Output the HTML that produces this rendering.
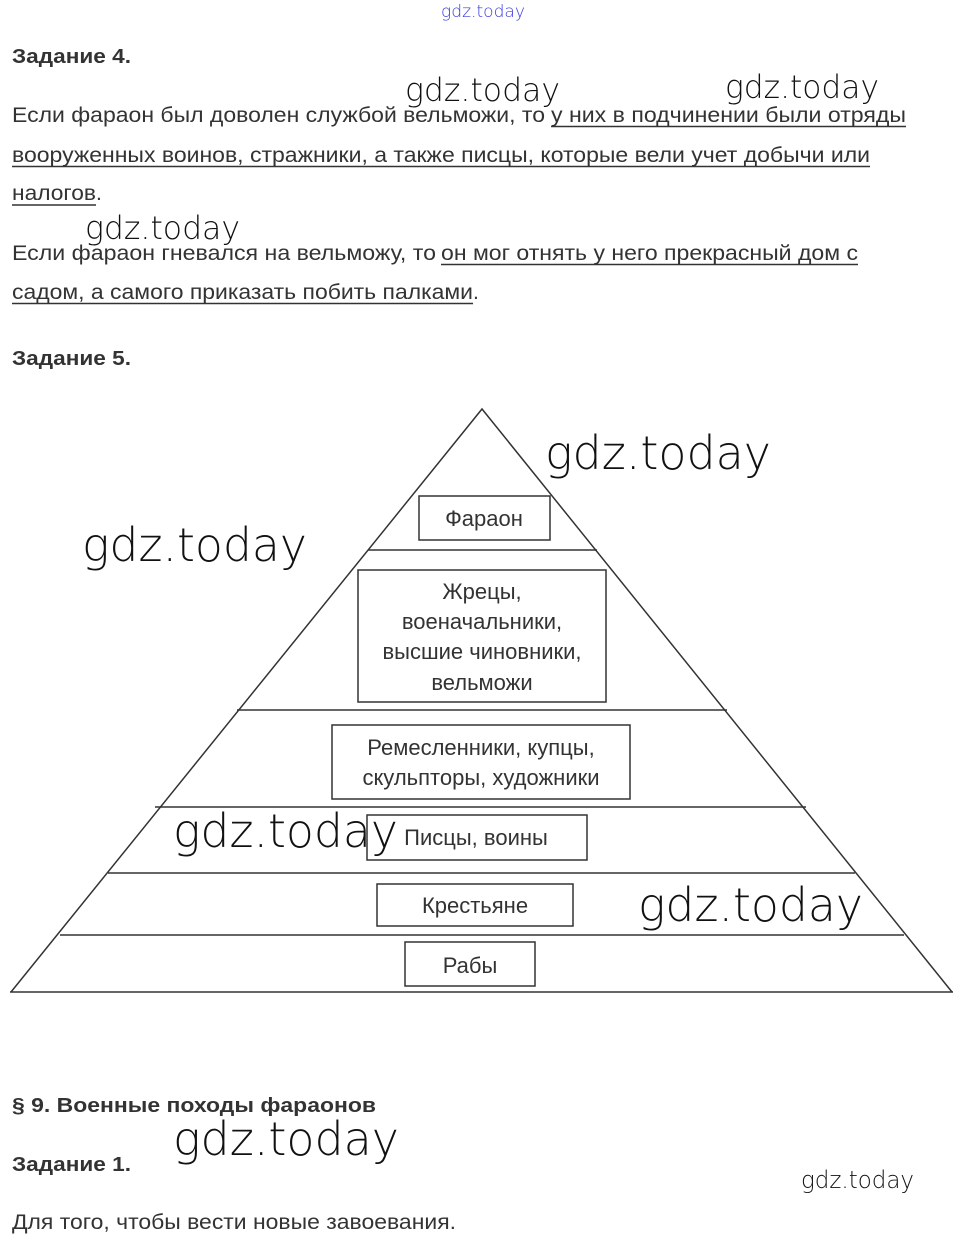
<!DOCTYPE html>
<html><head><meta charset="utf-8"><style>
html,body{margin:0;padding:0;background:#fff;}
svg{display:block;}
.t{font-family:"Liberation Sans",Arial,sans-serif;font-size:21px;fill:#333;}
.p{font-family:"Liberation Sans",Arial,sans-serif;font-size:22px;fill:#333;}
.b{font-family:"Liberation Sans",Arial,sans-serif;font-size:20px;font-weight:bold;fill:#333;}
.w{font-family:"DejaVu Sans","Liberation Sans",sans-serif;font-weight:200;fill:#111;}
</style></head><body>
<svg width="965" height="1249" viewBox="0 0 965 1249" xmlns="http://www.w3.org/2000/svg">
<rect width="965" height="1249" fill="#fff"/>
<text class="b" x="12" y="63" textLength="119" lengthAdjust="spacingAndGlyphs">Задание 4.</text>
<text class="t" x="12" y="122" textLength="533" lengthAdjust="spacingAndGlyphs">Если фараон был доволен службой вельможи, то</text>
<text class="t" x="551" y="122" textLength="355" lengthAdjust="spacingAndGlyphs">у них в подчинении были отряды</text>
<line x1="551" y1="126.5" x2="906" y2="126.5" stroke="#333" stroke-width="1.5"/>
<text class="t" x="12" y="162" textLength="858" lengthAdjust="spacingAndGlyphs">вооруженных воинов, стражники, а также писцы, которые вели учет добычи или</text>
<line x1="12" y1="166.5" x2="870" y2="166.5" stroke="#333" stroke-width="1.5"/>
<text class="t" x="12" y="200" textLength="84" lengthAdjust="spacingAndGlyphs">налогов</text><text class="t" x="96" y="200">.</text>
<line x1="12" y1="205" x2="96" y2="205" stroke="#333" stroke-width="1.5"/>
<text class="t" x="12" y="260" textLength="424" lengthAdjust="spacingAndGlyphs">Если фараон гневался на вельможу, то</text>
<text class="t" x="441" y="260" textLength="417" lengthAdjust="spacingAndGlyphs">он мог отнять у него прекрасный дом с</text>
<line x1="441" y1="264.5" x2="858" y2="264.5" stroke="#333" stroke-width="1.5"/>
<text class="t" x="12" y="299" textLength="461" lengthAdjust="spacingAndGlyphs">садом, а самого приказать побить палками</text><text class="t" x="473" y="299">.</text>
<line x1="12" y1="303.5" x2="473" y2="303.5" stroke="#333" stroke-width="1.5"/>
<text class="b" x="12" y="365" textLength="119" lengthAdjust="spacingAndGlyphs">Задание 5.</text>

<g stroke="#333" stroke-width="1.5" fill="none">
<polyline points="11,992 482,409 952,992"/>
<line x1="10" y1="992" x2="953" y2="992"/>
<line x1="368" y1="550" x2="597" y2="550"/>
<line x1="237" y1="710" x2="727" y2="710"/>
<line x1="155" y1="807" x2="806" y2="807"/>
<line x1="108" y1="873" x2="855" y2="873"/>
<line x1="60" y1="935" x2="904" y2="935"/>
<rect x="419" y="496" width="131" height="44"/>
<rect x="358" y="570" width="248" height="132"/>
<rect x="332" y="725" width="298" height="74"/>
<rect x="367" y="815" width="220" height="45"/>
<rect x="377" y="884" width="196" height="42"/>
<rect x="405" y="942" width="130" height="44"/>
</g>
<g class="p" text-anchor="middle">
<text x="484" y="526">Фараон</text>
<text x="482" y="599">Жрецы,</text>
<text x="482" y="629">военачальники,</text>
<text x="482" y="659">высшие чиновники,</text>
<text x="482" y="690">вельможи</text>
<text x="481" y="755">Ремесленники, купцы,</text>
<text x="481" y="785">скульпторы, художники</text>
<text x="476" y="845">Писцы, воины</text>
<text x="475" y="913">Крестьяне</text>
<text x="470" y="973">Рабы</text>
</g>

<text class="b" x="12" y="1112" textLength="364" lengthAdjust="spacingAndGlyphs">§ 9. Военные походы фараонов</text>
<text class="b" x="12" y="1171" textLength="119" lengthAdjust="spacingAndGlyphs">Задание 1.</text>
<text class="t" x="12" y="1229" textLength="444" lengthAdjust="spacingAndGlyphs">Для того, чтобы вести новые завоевания.</text>

<text class="w" x="441" y="17" font-size="17" style="fill:#3a3ae0" textLength="84" lengthAdjust="spacingAndGlyphs">gdz.today</text>
<text class="w" x="405" y="101" font-size="32" textLength="155" lengthAdjust="spacingAndGlyphs">gdz.today</text>
<text class="w" x="725" y="98" font-size="32" textLength="154" lengthAdjust="spacingAndGlyphs">gdz.today</text>
<text class="w" x="85" y="239" font-size="32" textLength="155" lengthAdjust="spacingAndGlyphs">gdz.today</text>
<text class="w" x="545" y="469" font-size="46" textLength="226" lengthAdjust="spacingAndGlyphs">gdz.today</text>
<text class="w" x="82" y="561" font-size="46" textLength="225" lengthAdjust="spacingAndGlyphs">gdz.today</text>
<text class="w" x="173" y="847" font-size="46" textLength="225" lengthAdjust="spacingAndGlyphs">gdz.today</text>
<text class="w" x="638" y="921" font-size="46" textLength="225" lengthAdjust="spacingAndGlyphs">gdz.today</text>
<text class="w" x="173" y="1155" font-size="46" textLength="226" lengthAdjust="spacingAndGlyphs">gdz.today</text>
<text class="w" x="801" y="1188" font-size="24" textLength="113" lengthAdjust="spacingAndGlyphs">gdz.today</text>
</svg>
</body></html>
